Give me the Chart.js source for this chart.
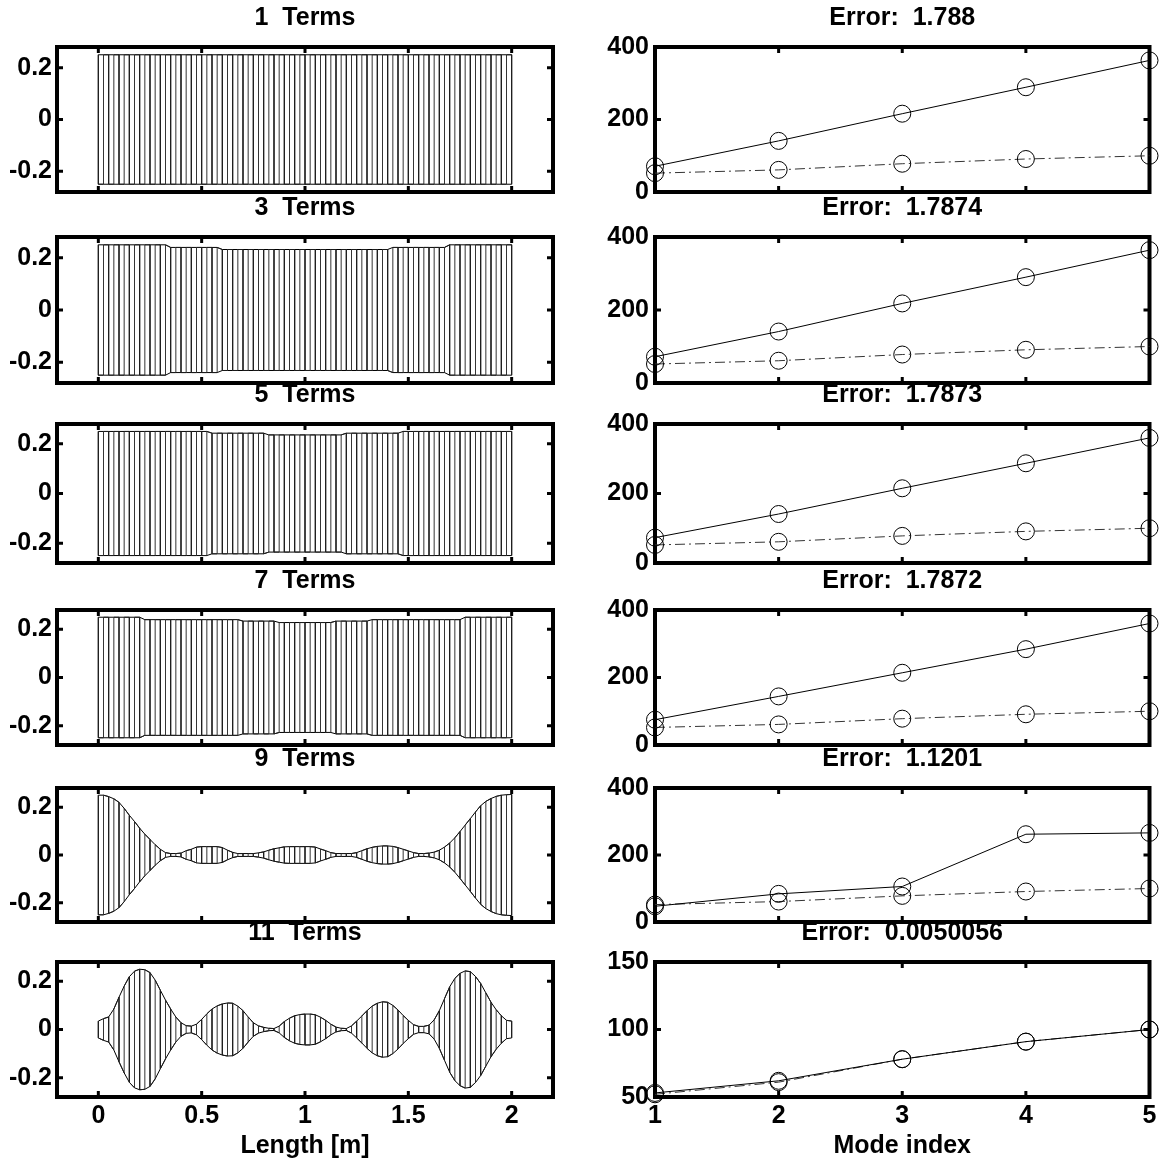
<!DOCTYPE html>
<html>
<head>
<meta charset="utf-8">
<script src="https://cdn.jsdelivr.net/npm/chart.js@4.4.1/dist/chart.umd.min.js"></script>
<style>
  html, body { margin: 0; padding: 0; background: #fff; }
  #page { position: relative; width: 1159px; height: 1159px; overflow: hidden; background: #fff; }
  .panel { position: absolute; }
</style>
</head>
<body>
<div id="page"></div>
<script>
// sample positions along the beam [m]
const lengthPos = [
  0, 0.025, 0.05, 0.075, 0.1, 0.125, 0.15, 0.175, 0.2, 0.225,
  0.25, 0.275, 0.3, 0.325, 0.35, 0.375, 0.4, 0.425, 0.45, 0.475,
  0.5, 0.525, 0.55, 0.575, 0.6, 0.625, 0.65, 0.675, 0.7, 0.725,
  0.75, 0.775, 0.8, 0.825, 0.85, 0.875, 0.9, 0.925, 0.95, 0.975,
  1, 1.025, 1.05, 1.075, 1.1, 1.125, 1.15, 1.175, 1.2, 1.225,
  1.25, 1.275, 1.3, 1.325, 1.35, 1.375, 1.4, 1.425, 1.45, 1.475,
  1.5, 1.525, 1.55, 1.575, 1.6, 1.625, 1.65, 1.675, 1.7, 1.725,
  1.75, 1.775, 1.8, 1.825, 1.85, 1.875, 1.9, 1.925, 1.95, 1.975,
  2
];

// thickness envelope for each number of terms
const env1 = [
  0.25, 0.25, 0.25, 0.25, 0.25, 0.25, 0.25, 0.25, 0.25, 0.25,
  0.25, 0.25, 0.25, 0.25, 0.25, 0.25, 0.25, 0.25, 0.25, 0.25,
  0.25, 0.25, 0.25, 0.25, 0.25, 0.25, 0.25, 0.25, 0.25, 0.25,
  0.25, 0.25, 0.25, 0.25, 0.25, 0.25, 0.25, 0.25, 0.25, 0.25,
  0.25, 0.25, 0.25, 0.25, 0.25, 0.25, 0.25, 0.25, 0.25, 0.25,
  0.25, 0.25, 0.25, 0.25, 0.25, 0.25, 0.25, 0.25, 0.25, 0.25,
  0.25, 0.25, 0.25, 0.25, 0.25, 0.25, 0.25, 0.25, 0.25, 0.25,
  0.25, 0.25, 0.25, 0.25, 0.25, 0.25, 0.25, 0.25, 0.25, 0.25,
  0.25
];
const env3 = [
  0.25, 0.25, 0.25, 0.25, 0.25, 0.25, 0.25, 0.25, 0.25, 0.25,
  0.25, 0.25, 0.25, 0.25, 0.24, 0.24, 0.24, 0.24, 0.24, 0.24,
  0.24, 0.24, 0.24, 0.24, 0.232, 0.232, 0.232, 0.232, 0.232, 0.232,
  0.232, 0.232, 0.232, 0.232, 0.232, 0.232, 0.232, 0.232, 0.232, 0.232,
  0.232, 0.232, 0.232, 0.232, 0.232, 0.232, 0.232, 0.232, 0.232, 0.232,
  0.232, 0.232, 0.232, 0.232, 0.232, 0.232, 0.232, 0.24, 0.24, 0.24,
  0.24, 0.24, 0.24, 0.24, 0.24, 0.24, 0.24, 0.24, 0.25, 0.25,
  0.25, 0.25, 0.25, 0.25, 0.25, 0.25, 0.25, 0.25, 0.25, 0.25,
  0.25
];
const env5 = [
  0.25, 0.25, 0.25, 0.25, 0.25, 0.25, 0.25, 0.25, 0.25, 0.25,
  0.25, 0.25, 0.25, 0.25, 0.25, 0.25, 0.25, 0.25, 0.25, 0.25,
  0.25, 0.25, 0.243, 0.243, 0.243, 0.243, 0.243, 0.243, 0.243, 0.243,
  0.243, 0.243, 0.243, 0.236, 0.236, 0.236, 0.236, 0.236, 0.236, 0.236,
  0.236, 0.236, 0.236, 0.236, 0.236, 0.236, 0.236, 0.236, 0.243, 0.243,
  0.243, 0.243, 0.243, 0.243, 0.243, 0.243, 0.243, 0.243, 0.243, 0.25,
  0.25, 0.25, 0.25, 0.25, 0.25, 0.25, 0.25, 0.25, 0.25, 0.25,
  0.25, 0.25, 0.25, 0.25, 0.25, 0.25, 0.25, 0.25, 0.25, 0.25,
  0.25
];
const env7 = [
  0.25, 0.25, 0.25, 0.25, 0.25, 0.25, 0.25, 0.25, 0.25, 0.24,
  0.24, 0.24, 0.24, 0.24, 0.24, 0.24, 0.24, 0.24, 0.24, 0.24,
  0.24, 0.24, 0.24, 0.24, 0.24, 0.24, 0.24, 0.24, 0.234, 0.234,
  0.234, 0.234, 0.234, 0.234, 0.234, 0.228, 0.228, 0.228, 0.228, 0.228,
  0.228, 0.228, 0.228, 0.228, 0.228, 0.228, 0.234, 0.234, 0.234, 0.234,
  0.234, 0.234, 0.234, 0.24, 0.24, 0.24, 0.24, 0.24, 0.24, 0.24,
  0.24, 0.24, 0.24, 0.24, 0.24, 0.24, 0.24, 0.24, 0.24, 0.24,
  0.24, 0.25, 0.25, 0.25, 0.25, 0.25, 0.25, 0.25, 0.25, 0.25,
  0.25
];
const env9 = [
  0.25, 0.25, 0.244, 0.235, 0.22, 0.195, 0.166, 0.14, 0.112, 0.087,
  0.065, 0.043, 0.024, 0.01, 0.006, 0.006, 0.008, 0.018, 0.024, 0.033,
  0.035, 0.035, 0.035, 0.035, 0.031, 0.02, 0.011, 0.006, 0.006, 0.006,
  0.006, 0.009, 0.013, 0.02, 0.026, 0.03, 0.034, 0.035, 0.035, 0.035,
  0.035, 0.035, 0.033, 0.025, 0.018, 0.01, 0.006, 0.006, 0.006, 0.006,
  0.01, 0.018, 0.026, 0.032, 0.036, 0.038, 0.038, 0.036, 0.031, 0.024,
  0.017, 0.01, 0.006, 0.006, 0.008, 0.012, 0.02, 0.033, 0.05, 0.072,
  0.098, 0.125, 0.152, 0.18, 0.206, 0.224, 0.236, 0.245, 0.25, 0.252,
  0.253
];
const env11 = [
  0.035, 0.045, 0.052, 0.085, 0.134, 0.18, 0.219, 0.242, 0.25, 0.248,
  0.236, 0.205, 0.163, 0.122, 0.085, 0.052, 0.028, 0.016, 0.014, 0.022,
  0.042, 0.065, 0.085, 0.098, 0.106, 0.11, 0.109, 0.097, 0.078, 0.052,
  0.028, 0.015, 0.009, 0.005, 0.004, 0.014, 0.033, 0.047, 0.057, 0.062,
  0.064, 0.064, 0.061, 0.051, 0.038, 0.022, 0.01, 0.005, 0.004, 0.015,
  0.035, 0.056, 0.078, 0.097, 0.109, 0.115, 0.113, 0.1, 0.081, 0.058,
  0.038, 0.02, 0.013, 0.013, 0.018, 0.04, 0.078, 0.128, 0.177, 0.212,
  0.233, 0.243, 0.24, 0.22, 0.191, 0.152, 0.113, 0.082, 0.057, 0.038,
  0.035
];

// natural frequencies per mode
const modeIndex = [1, 2, 3, 4, 5];
const targetFreq = [52, 61, 78, 91, 100];
const fitFreq1 = [71, 141, 216, 289, 363];
const fitFreq3 = [72, 141, 218, 290, 364];
const fitFreq5 = [73, 141, 215, 287, 360];
const fitFreq7 = [75, 144, 214, 284, 360];
const fitFreq9 = [47, 84, 106, 262, 266];
const fitFreq11 = [53, 62, 78, 91, 100];

const termCounts = [1, 3, 5, 7, 9, 11];
const errorLabels = ['1.788', '1.7874', '1.7873', '1.7872', '1.1201', '0.0050056'];

const lengthTicks = [0, 0.5, 1, 1.5, 2];
const shapeTicks = [-0.2, 0, 0.2];
const freqTicks = [0, 200, 400];
const freqTicksLast = [50, 100, 150];

const envelopes = [env1, env3, env5, env7, env9, env11];
const fits = [fitFreq1, fitFreq3, fitFreq5, fitFreq7, fitFreq9, fitFreq11];

// plot box of each row (top, bottom) in page pixels
const rowBoxes = [[47, 192], [237, 383], [424, 563], [610, 745], [788, 922], [962, 1097]];

const FONT = 'Liberation Sans, Arial, Helvetica, sans-serif';
const TITLE_H = 44;

// thick box with inward ticks, like the original figure
const boxPlugin = {
  id: 'box',
  beforeDatasetsDraw(chart) {
    const { ctx, chartArea: a, scales } = chart;
    ctx.save();
    ctx.strokeStyle = '#000';
    ctx.lineWidth = 4;
    ctx.strokeRect(a.left, a.top, a.right - a.left, a.bottom - a.top);
    ctx.lineWidth = 3;
    ctx.beginPath();
    scales.x.ticks.forEach(t => {
      const px = scales.x.getPixelForValue(t.value);
      ctx.moveTo(px, a.top); ctx.lineTo(px, a.top + 6);
      ctx.moveTo(px, a.bottom); ctx.lineTo(px, a.bottom - 6);
    });
    scales.y.ticks.forEach(t => {
      const py = scales.y.getPixelForValue(t.value);
      ctx.moveTo(a.left, py); ctx.lineTo(a.left + 6, py);
      ctx.moveTo(a.right, py); ctx.lineTo(a.right - 6, py);
    });
    ctx.stroke();
    ctx.restore();
  }
};

function stripes(env) {
  const pts = [];
  lengthPos.forEach((x, i) => {
    if (i % 2 === 0) pts.push({ x: x, y: env[i] }, { x: x, y: -env[i] });
    else pts.push({ x: x, y: -env[i] }, { x: x, y: env[i] });
  });
  return pts;
}

function makePanel(left, top, width, height) {
  const div = document.createElement('div');
  div.className = 'panel';
  div.style.left = left + 'px';
  div.style.top = top + 'px';
  div.style.width = width + 'px';
  div.style.height = height + 'px';
  const canvas = document.createElement('canvas');
  div.appendChild(canvas);
  document.getElementById('page').appendChild(div);
  return canvas;
}

function axisOpts(min, max, tickVals, fitSize, showLabels, title, isY, pad) {
  return {
    type: 'linear',
    min: min,
    max: max,
    grid: { display: false, drawTicks: false },
    border: { display: false },
    ticks: {
      display: showLabels,
      color: '#000',
      padding: pad,
      font: { family: FONT, size: 25, weight: 'bold' },
      callback: v => String(v)
    },
    title: {
      display: !!title,
      text: title || '',
      color: '#000',
      padding: { top: 0, bottom: 0 },
      font: { family: FONT, size: 25, weight: 'bold', lineHeight: 1.05 }
    },
    afterBuildTicks: s => { s.ticks = tickVals.map(v => ({ value: v })); },
    afterFit: s => {
      if (isY) s.width = fitSize; else s.height = fitSize;
      s.paddingLeft = 0; s.paddingRight = 0; s.paddingTop = 0; s.paddingBottom = 0;
    }
  };
}

function titleOpts(text) {
  return {
    display: true,
    text: text,
    fullSize: false,
    color: '#000',
    font: { family: FONT, size: 25, weight: 'bold', lineHeight: 1.2 },
    padding: { top: 0, bottom: 14 }
  };
}

rowBoxes.forEach((box, r) => {
  const last = r === rowBoxes.length - 1;
  const bottomH = last ? 62 : 18;
  const top = box[0] - TITLE_H;
  const height = box[1] - box[0] + TITLE_H + bottomH;
  const env = envelopes[r];

  // left: beam shape
  const leftCanvas = makePanel(0, top, 560, height);
  new Chart(leftCanvas.getContext('2d'), {
    type: 'line',
    data: {
      datasets: [
        { data: stripes(env), borderColor: '#1e1e1e', borderWidth: 0.9, pointRadius: 0, tension: 0 },
        { data: env.map((y, i) => ({ x: lengthPos[i], y: y })), borderColor: '#000', borderWidth: 1, pointRadius: 0, tension: 0 },
        { data: env.map((y, i) => ({ x: lengthPos[i], y: -y })), borderColor: '#000', borderWidth: 1, pointRadius: 0, tension: 0 }
      ]
    },
    options: {
      animation: false,
      responsive: true,
      maintainAspectRatio: false,
      layout: { padding: { left: 0, right: 7, top: 0, bottom: 0 } },
      plugins: {
        legend: { display: false },
        tooltip: { enabled: false },
        title: titleOpts(termCounts[r] + '  Terms')
      },
      scales: {
        x: axisOpts(-0.2, 2.2, lengthTicks, bottomH, last, last ? 'Length [m]' : '', false, 4),
        y: axisOpts(-0.28, 0.28, shapeTicks, 57, true, '', true, 5)
      }
    },
    plugins: [boxPlugin]
  });

  // right: natural frequencies
  const yTicks = last ? freqTicksLast : freqTicks;
  const rightCanvas = makePanel(580, top, 579, height);
  new Chart(rightCanvas.getContext('2d'), {
    type: 'line',
    data: {
      datasets: [
        {
          data: modeIndex.map((m, i) => ({ x: m, y: fits[r][i] })),
          borderColor: '#000', borderWidth: 1, tension: 0, clip: false,
          pointStyle: 'circle', pointRadius: 8.5, pointBorderWidth: 1,
          pointBorderColor: '#000', pointBackgroundColor: 'rgba(0,0,0,0)'
        },
        {
          data: modeIndex.map((m, i) => ({ x: m, y: targetFreq[i] })),
          borderColor: '#333', borderWidth: 1, borderDash: [10, 4, 2, 4], tension: 0, clip: false,
          pointStyle: 'circle', pointRadius: 8.5, pointBorderWidth: 1,
          pointBorderColor: '#000', pointBackgroundColor: 'rgba(0,0,0,0)'
        }
      ]
    },
    options: {
      animation: false,
      responsive: true,
      maintainAspectRatio: false,
      layout: { padding: { left: 0, right: 8, top: 0, bottom: 0 } },
      plugins: {
        legend: { display: false },
        tooltip: { enabled: false },
        title: titleOpts('Error:  ' + errorLabels[r])
      },
      scales: {
        x: axisOpts(1, 5, modeIndex, bottomH, last, last ? 'Mode index' : '', false, 4),
        y: axisOpts(yTicks[0], yTicks[yTicks.length - 1], yTicks, 75, true, '', true, 6)
      }
    },
    plugins: [boxPlugin]
  });
});
</script>
</body>
</html>
